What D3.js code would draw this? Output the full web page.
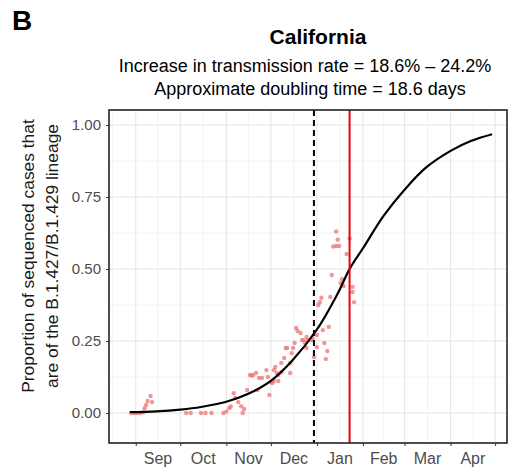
<!DOCTYPE html>
<meta charset="utf-8">
<style>
    html, body { margin: 0; padding: 0; background: #fff; }
    svg { display: block; font-family: "Liberation Sans", Arial, sans-serif; }
</style>
<div id="chart"></div>
<script src="https://d3js.org/d3.v7.min.js"></script>
<script>
    const obsDates = [
        "2020-08-29", "2020-08-31", "2020-09-02", "2020-09-04", "2020-09-06", "2020-09-07", "2020-09-08",
        "2020-09-09", "2020-09-11", "2020-09-12", "2020-10-05", "2020-10-08", "2020-10-15", "2020-10-18",
        "2020-10-22", "2020-10-30", "2020-11-01", "2020-11-03", "2020-11-04", "2020-11-06", "2020-11-07",
        "2020-11-09", "2020-11-11", "2020-11-12", "2020-11-13", "2020-11-15", "2020-11-17", "2020-11-18",
        "2020-11-19", "2020-11-21", "2020-11-22", "2020-11-23", "2020-11-25", "2020-11-28", "2020-11-29",
        "2020-11-30", "2020-12-01", "2020-12-02", "2020-12-03", "2020-12-03", "2020-12-04", "2020-12-05",
        "2020-12-06", "2020-12-06", "2020-12-08", "2020-12-08", "2020-12-10", "2020-12-11", "2020-12-12",
        "2020-12-14", "2020-12-14", "2020-12-15", "2020-12-16", "2020-12-17", "2020-12-18", "2020-12-19",
        "2020-12-21", "2020-12-22", "2020-12-23", "2020-12-24", "2020-12-25", "2020-12-25", "2020-12-26",
        "2020-12-28", "2020-12-29", "2020-12-30", "2021-01-01", "2021-01-01", "2021-01-02", "2021-01-03",
        "2021-01-04", "2021-01-05", "2021-01-06", "2021-01-07", "2021-01-08", "2021-01-09", "2021-01-10",
        "2021-01-11", "2021-01-12", "2021-01-14", "2021-01-14", "2021-01-15", "2021-01-16", "2021-01-17",
        "2021-01-18", "2021-01-19", "2021-01-21", "2021-01-23", "2021-01-25", "2021-01-25", "2021-01-26"
    ];
    const obsProps = [
        0.000, 0.000, 0.000, 0.000, 0.003, 0.017, 0.028,
        0.042, 0.059, 0.038, 0.000, 0.000, 0.000, 0.000,
        0.000, 0.000, 0.005, 0.017, 0.023, 0.069, 0.052,
        0.038, 0.024, 0.000, 0.014, 0.080, 0.132, 0.130,
        0.132, 0.139, 0.080, 0.122, 0.122, 0.149, 0.125,
        0.063, 0.108, 0.104, 0.111, 0.149, 0.160, 0.139,
        0.111, 0.132, 0.142, 0.174, 0.191, 0.226, 0.226,
        0.174, 0.139, 0.208, 0.226, 0.243, 0.295, 0.285,
        0.278, 0.253, 0.253, 0.243, 0.264, 0.226, 0.253,
        0.253, 0.260, 0.194, 0.271, 0.229, 0.375, 0.385,
        0.400, 0.288, 0.243, 0.188, 0.215, 0.299, 0.403,
        0.479, 0.578, 0.580, 0.630, 0.602, 0.580, 0.451,
        0.465, 0.441, 0.552, 0.606, 0.438, 0.420, 0.385
    ];

    // fitted curve
    const fitDates = [
        "2020-08-28", "2020-09-15", "2020-10-01", "2020-10-15", "2020-11-01", "2020-11-15", "2020-12-01",
        "2020-12-15", "2021-01-01", "2021-01-15", "2021-01-23", "2021-02-01", "2021-02-15", "2021-03-01",
        "2021-03-15", "2021-04-01", "2021-04-15", "2021-04-29"
    ];
    const fitProps = [
        0.003, 0.006, 0.012, 0.021, 0.039, 0.065, 0.112,
        0.180, 0.290, 0.415, 0.500, 0.572, 0.685, 0.775,
        0.850, 0.910, 0.945, 0.968
    ];

    const dashedDate = "2020-12-30";   // black dashed line
    const redDate = "2021-01-23";      // red line
    const monthStarts = ["2020-08-01", "2020-09-01", "2020-10-01", "2020-11-01", "2020-12-01",
        "2021-01-01", "2021-02-01", "2021-03-01", "2021-04-01", "2021-05-01"];
    const monthLabels = ["Sep", "Oct", "Nov", "Dec", "Jan", "Feb", "Mar", "Apr"];
    const yTicks = [0, 0.25, 0.5, 0.75, 1];
    const yMinor = [0.125, 0.375, 0.625, 0.875];

    const W = 511, H = 470;
    const pL = 109, pR = 507, pT = 110, pB = 443;
    const parse = d3.timeParse("%Y-%m-%d");

    const svg = d3.select("#chart").append("svg")
        .attr("width", W)
        .attr("height", H);

    const x = d3.scaleTime()
        .domain([parse("2020-08-14"), parse("2021-05-09")])
        .range([pL, pR]);
    const y = d3.scaleLinear()
        .domain([-0.104, 1.052])
        .range([pB, pT]);

    const starts = monthStarts.map(parse);
    const mids = d3.pairs(starts).map(p => new Date((+p[0] + +p[1]) / 2));

    // grid
    const grid = svg.append("g");
    grid.selectAll(".hmin").data(yMinor).join("line")
        .attr("x1", pL).attr("x2", pR)
        .attr("y1", d => y(d)).attr("y2", d => y(d))
        .attr("stroke", "#f0f0f0").attr("stroke-width", 0.9);
    grid.selectAll(".vmin").data(mids).join("line")
        .attr("x1", d => x(d)).attr("x2", d => x(d))
        .attr("y1", pT).attr("y2", pB)
        .attr("stroke", "#f0f0f0").attr("stroke-width", 0.9);
    grid.selectAll(".hmaj").data(yTicks).join("line")
        .attr("x1", pL).attr("x2", pR)
        .attr("y1", d => y(d)).attr("y2", d => y(d))
        .attr("stroke", "#e6e6e6").attr("stroke-width", 1.1);
    grid.selectAll(".vmaj").data(starts.filter(d => x(d) > pL && x(d) < pR)).join("line")
        .attr("x1", d => x(d)).attr("x2", d => x(d))
        .attr("y1", pT).attr("y2", pB)
        .attr("stroke", "#e6e6e6").attr("stroke-width", 1.1);

    // points
    svg.append("g").selectAll("circle")
        .data(obsDates.map((d, i) => [parse(d), obsProps[i]]))
        .join("circle")
        .attr("cx", d => x(d[0]))
        .attr("cy", d => y(d[1]))
        .attr("r", 2.2)
        .attr("fill", "#ee7b7b")
        .attr("fill-opacity", 0.8);

    // fitted curve
    svg.append("path")
        .datum(fitDates.map((d, i) => [parse(d), fitProps[i]]))
        .attr("fill", "none")
        .attr("stroke", "#000")
        .attr("stroke-width", 2.2)
        .attr("d", d3.line().x(d => x(d[0])).y(d => y(d[1])).curve(d3.curveCatmullRom.alpha(0.5)));

    // reference lines
    svg.append("line")
        .attr("x1", x(parse(dashedDate))).attr("x2", x(parse(dashedDate)))
        .attr("y1", pT).attr("y2", pB)
        .attr("stroke", "#000").attr("stroke-width", 2)
        .attr("stroke-dasharray", "6,4");
    svg.append("line")
        .attr("x1", x(parse(redDate))).attr("x2", x(parse(redDate)))
        .attr("y1", pT).attr("y2", pB)
        .attr("stroke", "#e8000b").attr("stroke-width", 2);

    // panel border
    svg.append("rect")
        .attr("x", pL).attr("y", pT)
        .attr("width", pR - pL).attr("height", pB - pT)
        .attr("fill", "none").attr("stroke", "#222").attr("stroke-width", 1.6);

    // axes
    const yAxis = svg.append("g").attr("transform", `translate(${pL},0)`)
        .call(d3.axisLeft(y).tickValues(yTicks).tickFormat(d3.format(".2f")).tickSize(3).tickPadding(5));
    const xAxis = svg.append("g").attr("transform", `translate(0,${pB})`)
        .call(d3.axisBottom(x).tickValues(starts.slice(1)).tickFormat("").tickSize(3));
    svg.append("g").selectAll("text").data(mids.slice(1, 9)).join("text")
        .attr("x", d => x(d))
        .attr("y", 464)
        .attr("text-anchor", "middle")
        .attr("font-size", 16)
        .attr("fill", "#4d4d4d")
        .text((d, i) => monthLabels[i]);
    [yAxis, xAxis].forEach(g => {
        g.select(".domain").remove();
        g.selectAll(".tick line").attr("stroke", "#333");
        g.selectAll(".tick text").attr("font-size", 15).attr("fill", "#4d4d4d")
            .attr("font-family", "Liberation Sans, Arial, sans-serif");
    });

    // y title
    const yt = svg.append("text")
        .attr("transform", "translate(0,256) rotate(-90)")
        .attr("text-anchor", "middle")
        .attr("font-size", 17.4)
        .attr("fill", "#1a1a1a");
    yt.append("tspan").attr("x", 0).attr("y", 34).text("Proportion of sequenced cases that");
    yt.append("tspan").attr("x", 0).attr("y", 58).text("are of the B.1.427/B.1.429 lineage");

    // titles
    svg.append("text").attr("x", 12).attr("y", 30)
        .attr("font-size", 28).attr("font-weight", "bold").text("B");
    svg.append("text").attr("x", 318).attr("y", 44)
        .attr("text-anchor", "middle").attr("font-size", 21).attr("font-weight", "bold")
        .text("California");
    svg.append("text").attr("x", 305).attr("y", 72)
        .attr("text-anchor", "middle").attr("font-size", 18)
        .text("Increase in transmission rate = 18.6% \u2013 24.2%");
    svg.append("text").attr("x", 310).attr("y", 95)
        .attr("text-anchor", "middle").attr("font-size", 18)
        .text("Approximate doubling time = 18.6 days");
</script>
